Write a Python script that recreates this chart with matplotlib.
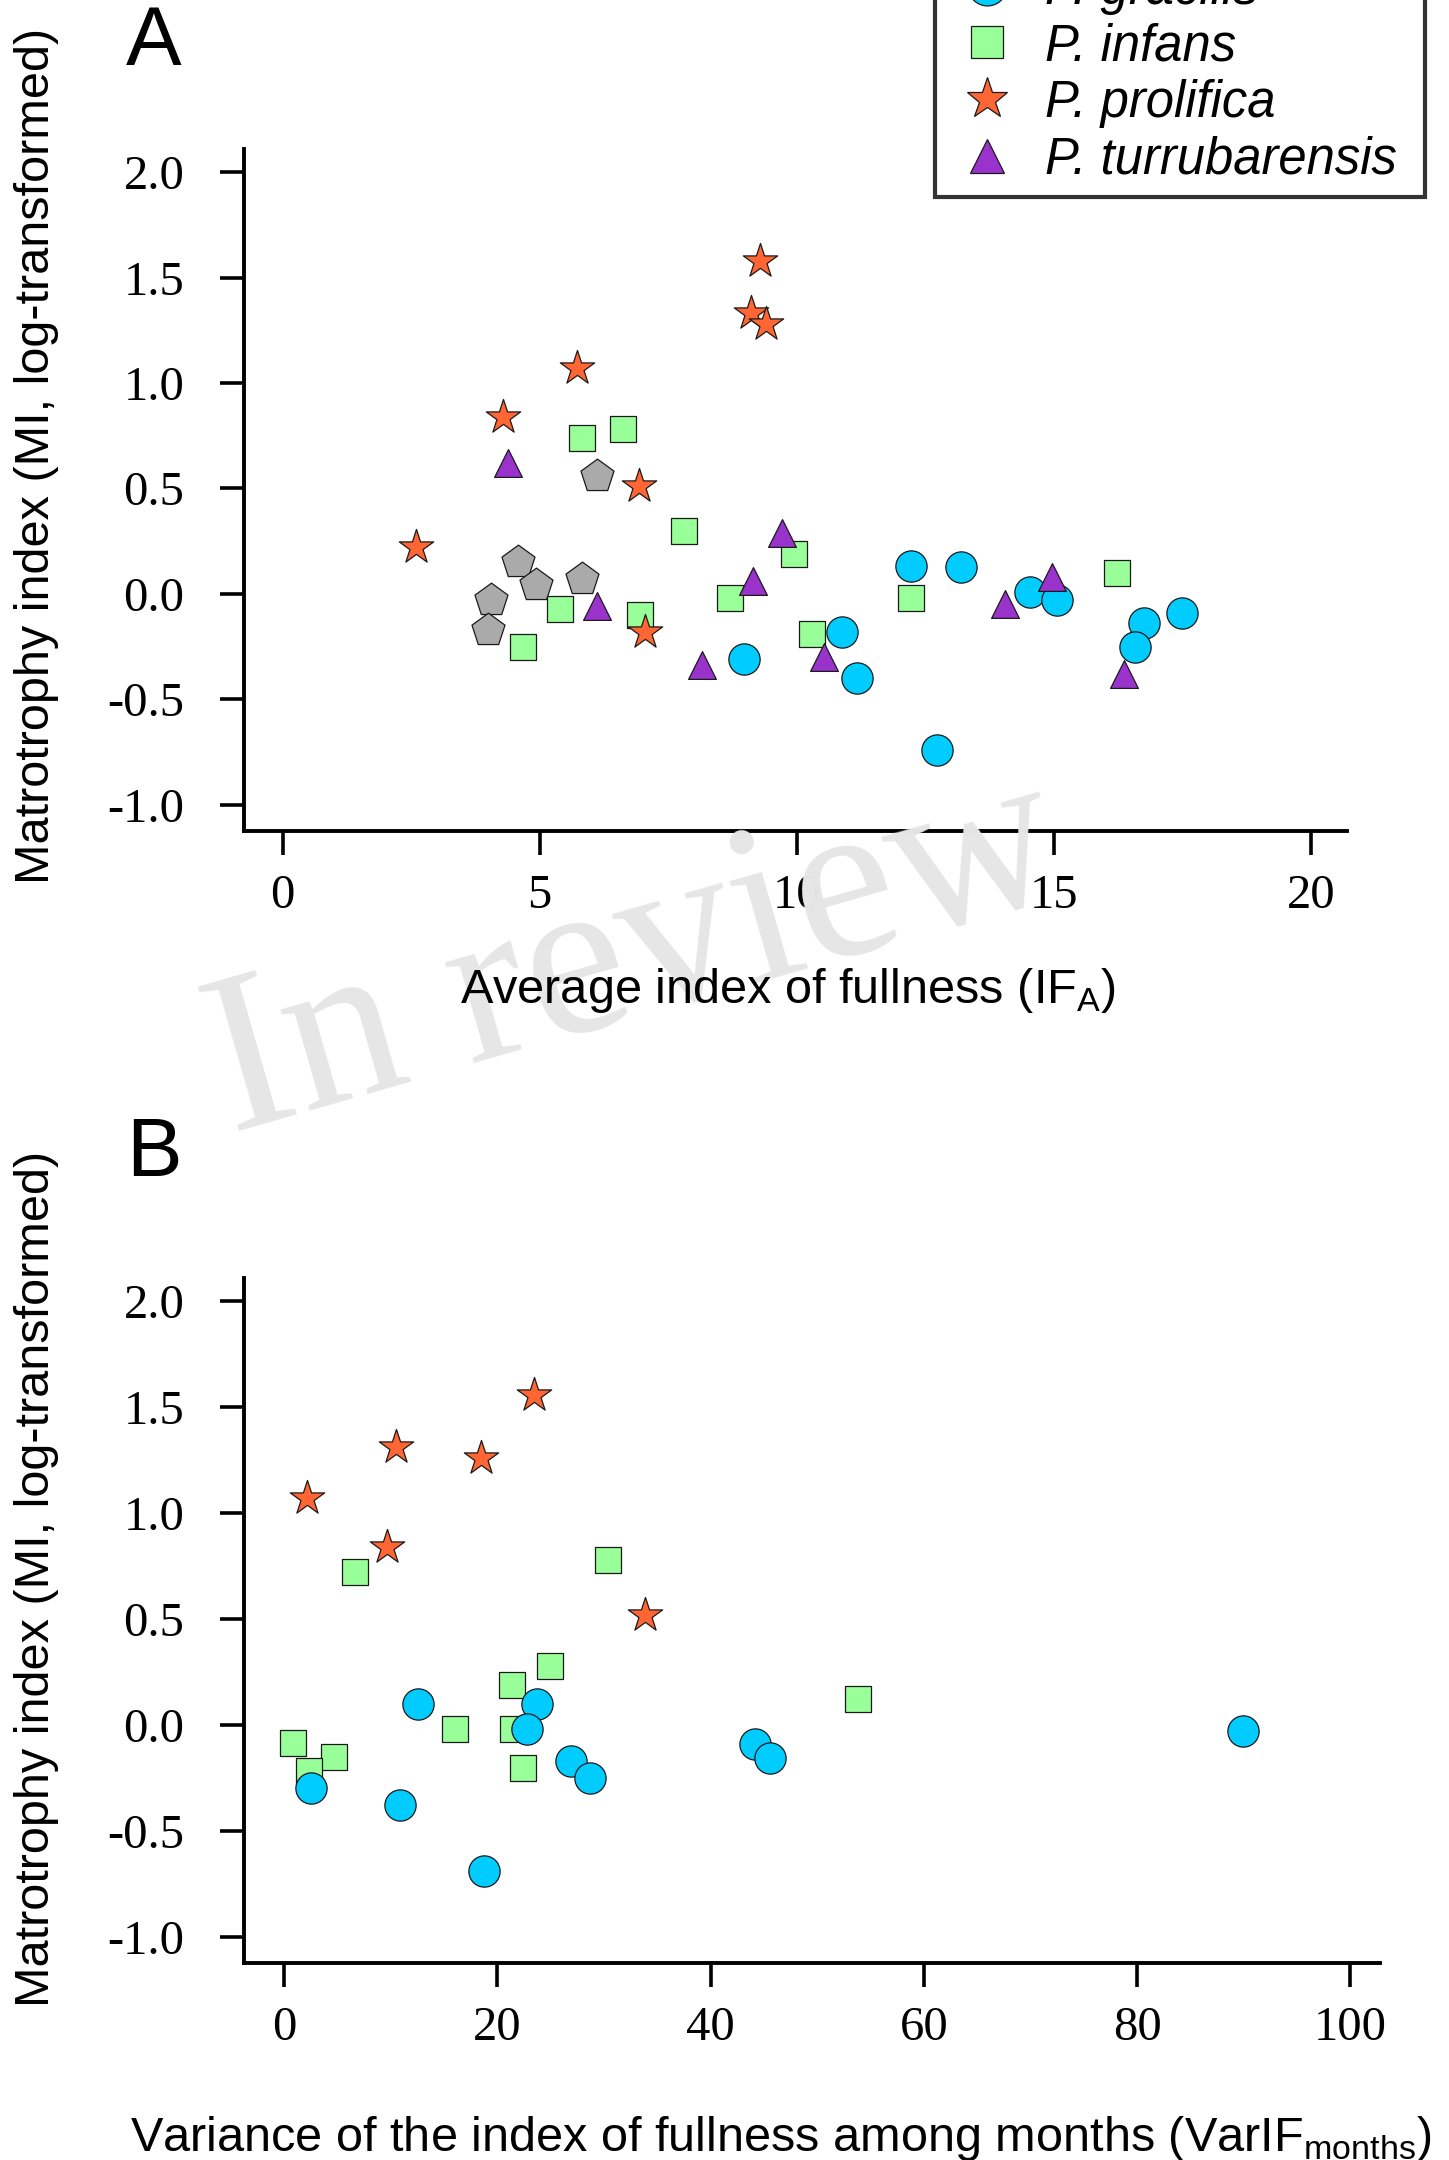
import matplotlib
matplotlib.use("Agg")
import matplotlib.pyplot as plt
from matplotlib.lines import Line2D

plt.rcParams['axes.unicode_minus'] = False

# ---------------- data ----------------
# Panel A: average index of fullness (IF_A) vs matrotrophy index
gracilis_A_x = [8.98, 10.87, 11.17, 12.23, 13.2, 14.53, 15.07, 16.75, 17.5, 16.58, 12.73]
gracilis_A_y = [-0.31, -0.18, -0.40, 0.13, 0.125, 0.01, -0.03, -0.14, -0.09, -0.25, -0.74]

infans_A_x = [5.83, 6.62, 7.80, 9.95, 8.70, 6.96, 5.39, 4.68, 10.29, 12.23, 16.23]
infans_A_y = [0.74, 0.78, 0.30, 0.19, -0.02, -0.10, -0.07, -0.25, -0.19, -0.02, 0.10]

prolifica_A_x = [9.28, 9.10, 9.41, 5.73, 4.28, 6.93, 2.59, 7.05]
prolifica_A_y = [1.58, 1.33, 1.28, 1.07, 0.84, 0.51, 0.22, -0.18]

turru_A_x = [4.39, 6.11, 9.71, 9.15, 8.15, 10.52, 14.05, 14.96, 16.36]
turru_A_y = [0.62, -0.06, 0.29, 0.06, -0.34, -0.30, -0.05, 0.08, -0.38]

other_A_x = [6.12, 4.58, 4.92, 5.82, 4.06, 4.00]
other_A_y = [0.56, 0.15, 0.04, 0.07, -0.03, -0.17]

# Panel B: variance of the index of fullness among months vs matrotrophy index
gracilis_B_x = [12.6, 23.7, 22.8, 2.55, 10.84, 26.9, 28.7, 18.8, 44.2, 45.6, 89.9]
gracilis_B_y = [0.10, 0.10, -0.02, -0.30, -0.38, -0.17, -0.25, -0.69, -0.09, -0.155, -0.03]

infans_B_x = [6.69, 30.4, 24.9, 21.4, 16.07, 21.5, 0.84, 4.73, 2.38, 22.4, 53.8]
infans_B_y = [0.72, 0.78, 0.28, 0.19, -0.02, -0.02, -0.085, -0.15, -0.22, -0.205, 0.12]

prolifica_B_x = [23.4, 10.46, 18.45, 2.13, 9.62, 33.9]
prolifica_B_y = [1.56, 1.31, 1.26, 1.07, 0.84, 0.52]

species = ["P. gracilis", "P. infans", "P. prolifica", "P. turrubarensis"]
yticks = [-1.0, -0.5, 0.0, 0.5, 1.0, 1.5, 2.0]
yticklabels = ["-1.0", "-0.5", "0.0", "0.5", "1.0", "1.5", "2.0"]
xticks_A = [0, 5, 10, 15, 20]
xticks_B = [0, 20, 40, 60, 80, 100]

# ---------------- styles ----------------
C_CIRC = "#00CCFF"
C_SQ = "#99FF99"
C_STAR = "#FF6633"
C_TRI = "#9933CC"
C_PENT = "#AAAAAA"
EC = "#1a1a1a"
EW = 0.9
S_CIRC, S_SQ, S_STAR, S_TRI, S_PENT = 22.5, 19, 26, 20, 25

SERIF = "Liberation Serif"
SANS = "Liberation Sans"

fig = plt.figure(figsize=(14.49, 21.6), dpi=100)

# watermark
fig.text(0.160, 0.4755, "In review", rotation=16, rotation_mode="anchor",
         fontsize=165, family=SERIF, color="#e6e6e6",
         ha="left", va="baseline", zorder=0)

axA = fig.add_axes([0.1684, 0.6153, 0.9296 - 0.1684, 0.931 - 0.6153])
axB = fig.add_axes([0.1684, 0.0912, 0.9525 - 0.1684, 0.4083 - 0.0912])


def style_axis(ax, xticks, xlim):
    ax.set_facecolor("none")
    ax.set_xlim(*xlim)
    ax.set_ylim(-1.125, 2.11)
    for s in ["top", "right"]:
        ax.spines[s].set_visible(False)
    for s in ["left", "bottom"]:
        ax.spines[s].set_linewidth(2.8)
    ax.set_yticks(yticks)
    ax.set_yticklabels(yticklabels)
    ax.set_xticks(xticks)
    ax.set_xticklabels([str(t) for t in xticks])
    ax.tick_params(axis="both", direction="out", length=17, width=2.6,
                   labelsize=35)
    ax.tick_params(axis="y", pad=26)
    ax.tick_params(axis="x", pad=14)
    for lab in ax.get_xticklabels() + ax.get_yticklabels():
        lab.set_family(SERIF)


def sc(ax, x, y, marker, color, size):
    ax.scatter(x, y, marker=marker, s=size ** 2, facecolor=color,
               edgecolor=EC, linewidth=EW, zorder=3, clip_on=False)


style_axis(axA, xticks_A, (-0.75, 20.7))
sc(axA, other_A_x, other_A_y, "p", C_PENT, S_PENT)
sc(axA, infans_A_x, infans_A_y, "s", C_SQ, S_SQ)
sc(axA, gracilis_A_x, gracilis_A_y, "o", C_CIRC, S_CIRC)
sc(axA, prolifica_A_x, prolifica_A_y, "*", C_STAR, S_STAR)
sc(axA, turru_A_x, turru_A_y, "^", C_TRI, S_TRI)

style_axis(axB, xticks_B, (-3.75, 102.8))
sc(axB, infans_B_x, infans_B_y, "s", C_SQ, S_SQ)
sc(axB, gracilis_B_x, gracilis_B_y, "o", C_CIRC, S_CIRC)
sc(axB, prolifica_B_x, prolifica_B_y, "*", C_STAR, S_STAR)

# axis labels
fig.text(0.544, 0.5356, r"Average index of fullness (IF$_\mathregular{A}$)",
         family=SANS, fontsize=35, ha="center", va="baseline")
fig.text(0.539, 0.0042,
         r"Variance of the index of fullness among months (VarIF$_\mathregular{months}$)",
         family=SANS, fontsize=35, ha="center", va="baseline")
fig.text(0.0255, 0.789, "Matrotrophy index (MI, log-transformed)",
         family=SANS, fontsize=35, rotation=90, ha="center", va="center")
fig.text(0.0255, 0.269, "Matrotrophy index (MI, log-transformed)",
         family=SANS, fontsize=35, rotation=90, ha="center", va="center")

# panel letters
fig.text(0.1063, 0.980, "A", family=SANS, fontsize=60, ha="center", va="center")
fig.text(0.1063, 0.4657, "B", family=SANS, fontsize=60, ha="center", va="center")

# legend (top partly cut off by the figure edge)
handles = [
    Line2D([], [], linestyle="none", marker="o", markersize=28,
           markerfacecolor=C_CIRC, markeredgecolor=EC, markeredgewidth=EW),
    Line2D([], [], linestyle="none", marker="s", markersize=23,
           markerfacecolor=C_SQ, markeredgecolor=EC, markeredgewidth=EW),
    Line2D([], [], linestyle="none", marker="*", markersize=31,
           markerfacecolor=C_STAR, markeredgecolor=EC, markeredgewidth=EW),
    Line2D([], [], linestyle="none", marker="^", markersize=25,
           markerfacecolor=C_TRI, markeredgecolor=EC, markeredgewidth=EW),
]
leg_x0 = 935 / 1449
leg_w = (1425 - 935) / 1449
leg_y0 = 1 - 197 / 2160
leg = fig.legend(handles, species, loc="lower left",
                 bbox_to_anchor=(leg_x0, leg_y0, leg_w, 0.1), mode="expand",
                 borderaxespad=0,
                 frameon=True, fancybox=False, edgecolor="black",
                 prop={"family": SANS, "style": "italic", "size": 36.5},
                 labelspacing=0.15, handlelength=1.57, handletextpad=0.35,
                 borderpad=0.25)
leg.get_frame().set_linewidth(3)
leg.get_frame().set_facecolor("white")

fig.savefig("out.png", dpi=100)
